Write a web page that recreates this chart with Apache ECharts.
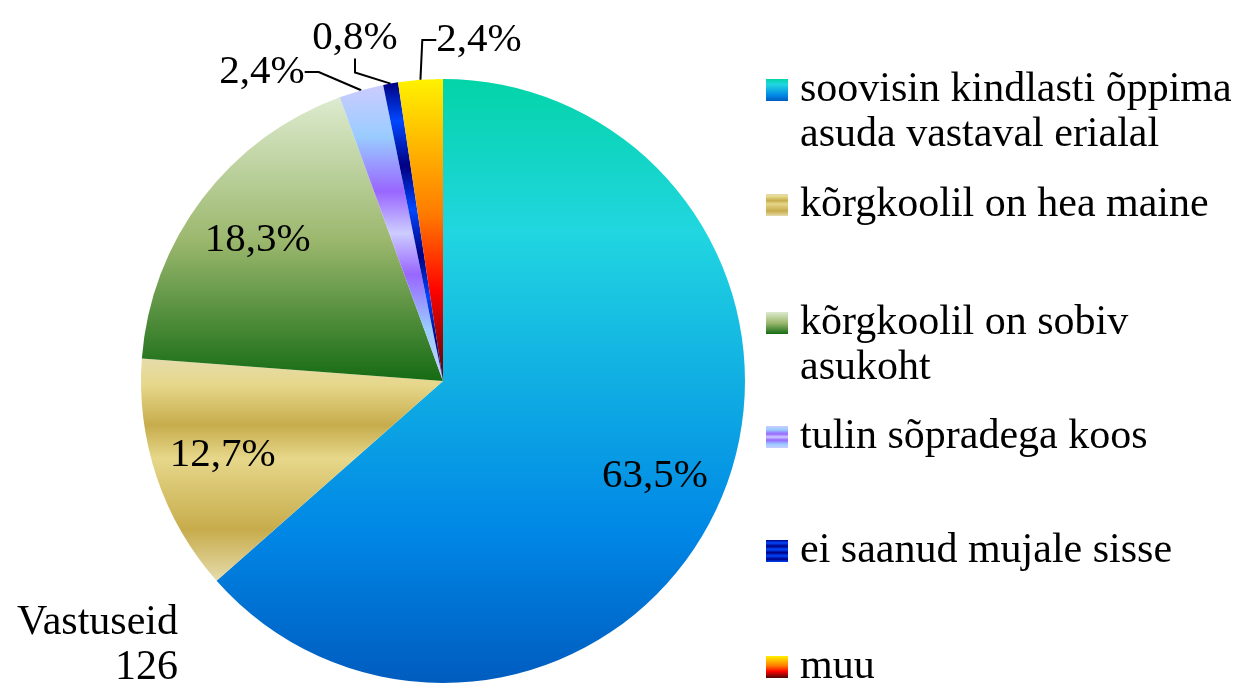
<!DOCTYPE html>
<html>
<head>
<meta charset="utf-8">
<script src="https://cdn.jsdelivr.net/npm/echarts@6/dist/echarts.min.js"></script>
<style>
  html, body { margin: 0; padding: 0; background: #fff; }
  #chart { width: 1240px; height: 691px; }
</style>
</head>
<body>
<div id="chart"></div>
<script>
// vastuste arv (kokku 126)
const categories = [
  'soovisin kindlasti õppima\nasuda vastaval erialal',
  'kõrgkoolil on hea maine',
  'kõrgkoolil on sobiv\nasukoht',
  'tulin sõpradega koos',
  'ei saanud mujale sisse',
  'muu'
]
const counts = [80, 16, 23, 3, 1, 3]
const total = 126

const FONT = '"Liberation Serif", "Times New Roman", serif'

// excel-i eelseadistatud gradiendid
const grad = (stops) => new echarts.graphic.LinearGradient(0, 0, 0, 1,
  stops.map(s => ({ offset: s[0], color: s[1] })))
const fills = [
  grad([[0, '#03d4a8'], [0.25, '#21d6e0'], [0.75, '#0087e6'], [1, '#005cbf']]),
  grad([[0, '#e6dcac'], [0.12, '#e6d78a'], [0.3, '#c7ac4c'], [0.45, '#e6d78a'], [0.77, '#c7ac4c'], [1, '#e6dcac']]),
  grad([[0, '#ddebcf'], [0.5, '#9cb86e'], [1, '#156b13']]),
  grad([[0, '#ccccff'], [0.175, '#99ccff'], [0.36, '#9966ff'], [0.5, '#ccccff'], [0.64, '#9966ff'], [0.825, '#99ccff'], [1, '#ccccff']]),
  grad([[0, '#000082'], [0.13, '#0047ff'], [0.28, '#000082'], [0.425, '#0047ff'], [0.58, '#000082'], [0.72, '#0047ff'], [0.87, '#000082'], [1, '#0047ff']]),
  grad([[0, '#fff200'], [0.45, '#ff7a00'], [0.7, '#ff0300'], [1, '#4d0808']])
]

const pct = (v) => (v / total * 100).toFixed(1).replace('.', ',') + '%'

const CX = 443
const CY = 381
const R = 302

// legendi ikoonide keskpunktid
const iconMid = [90, 205, 323, 437, 551, 667]
const LH = 45

// väikeste sektorite siltide kohad (keskpunkt)
const outerLabelPos = { 3: [262, 72], 4: [355, 38], 5: [479, 40] }

const legends = categories.map((name, i) => {
  const twoLines = name.indexOf('\n') > -1
  return {
    data: [name],
    orient: 'vertical',
    left: 766,
    top: twoLines ? iconMid[i] - LH * 1.5 : iconMid[i] - LH / 2,
    padding: 0,
    itemWidth: 22,
    itemHeight: 22,
    icon: 'rect',
    selectedMode: false,
    // tühi rida ees, et ikoon jääks esimese rea kõrgusele
    formatter: (n) => twoLines ? '\n' + n : n,
    textStyle: {
      fontFamily: FONT,
      fontSize: 42,
      lineHeight: LH,
      color: '#000',
      padding: [0, 0, 0, 7]
    }
  }
})

const myChart = echarts.init(document.getElementById('chart'))
myChart.setOption({
  animation: false,
  title: {
    text: 'Vastuseid\n126',
    left: 173,
    top: 595,
    textAlign: 'right',
    textStyle: {
      fontFamily: FONT,
      fontSize: 42,
      lineHeight: 45,
      fontWeight: 'normal',
      color: '#000',
      align: 'right'
    }
  },
  legend: legends,
  series: [
    {
      type: 'pie',
      center: [CX, CY],
      radius: [0, R],
      startAngle: 90,
      clockwise: true,
      silent: true,
      itemStyle: { borderWidth: 0 },
      data: categories.map((name, i) => ({
        name: name,
        value: counts[i],
        itemStyle: { color: fills[i] },
        label: { show: i >= 3 },
        labelLine: { show: i >= 3 }
      })),
      label: {
        position: 'outside',
        formatter: (p) => pct(p.value),
        fontFamily: FONT,
        fontSize: 41,
        color: '#000'
      },
      labelLine: {
        length: 22,
        length2: 14,
        lineStyle: { color: '#000', width: 2 }
      },
      labelLayout: (p) => {
        const pos = outerLabelPos[p.dataIndex]
        if (!pos) return {}
        return { x: pos[0], y: pos[1], align: 'center', verticalAlign: 'middle' }
      }
    },
    {
      // läbipaistev kiht siseetikettide jaoks
      type: 'pie',
      center: [CX, CY],
      radius: [R * 0.52, R],
      startAngle: 90,
      silent: true,
      itemStyle: { color: 'transparent', borderWidth: 0 },
      data: categories.map((name, i) => ({
        name: name,
        value: counts[i],
        label: { show: i < 3 }
      })),
      label: {
        position: 'inside',
        formatter: (p) => pct(p.value),
        fontFamily: FONT,
        fontSize: 41,
        color: '#000'
      },
      labelLine: { show: false }
    }
  ]
})
</script>
</body>
</html>
